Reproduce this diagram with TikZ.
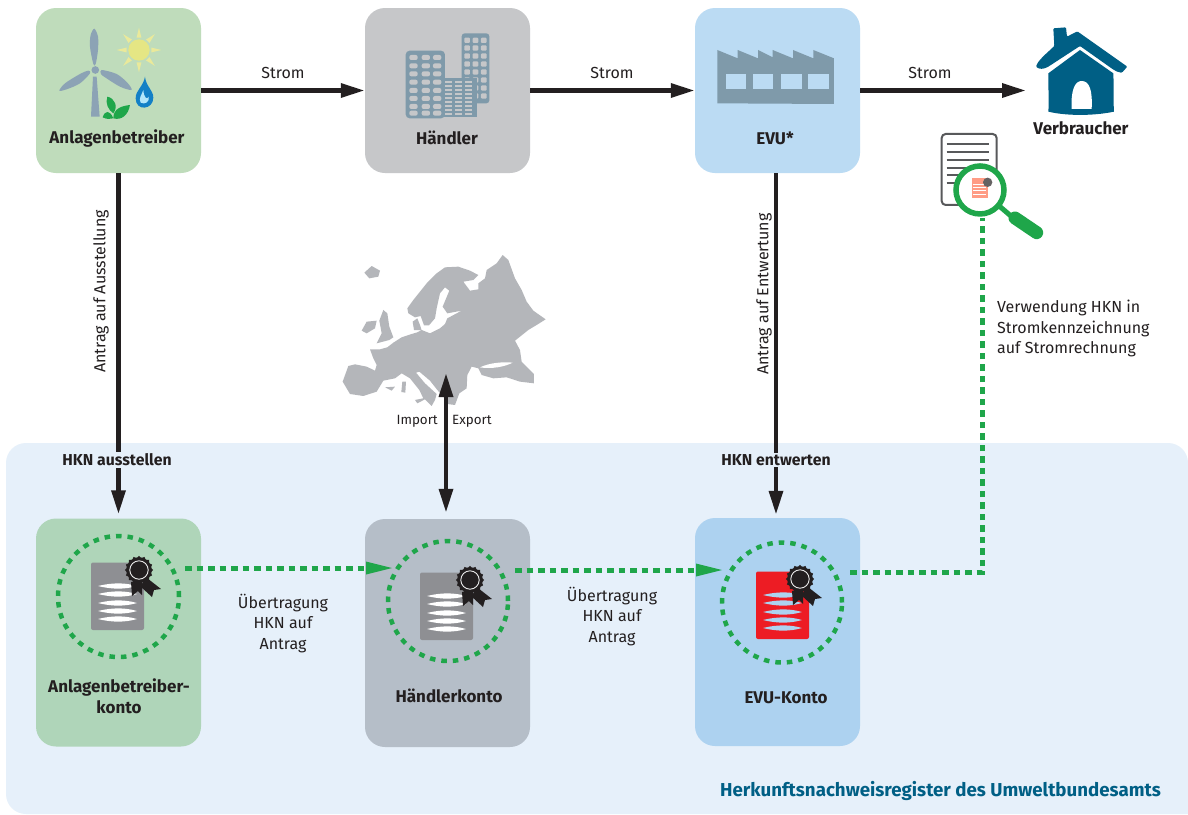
\documentclass[tikz,border=0pt]{standalone}
\usepackage{fontspec}
\setmainfont{Fira Sans}
\usetikzlibrary{arrows.meta,calc}
\definecolor{ink}{HTML}{231F20}
\definecolor{gbox}{HTML}{BFDCBB}
\definecolor{hbox}{HTML}{C6C7C9}
\definecolor{ebox}{HTML}{BBDBF3}
\definecolor{gacc}{HTML}{AFD5B9}
\definecolor{hacc}{HTML}{B5BEC8}
\definecolor{eacc}{HTML}{ADD2F0}
\definecolor{regbg}{HTML}{E6F0FA}
\definecolor{petrol}{HTML}{005F85}
\definecolor{ggreen}{HTML}{1FA64A}
\definecolor{icon}{HTML}{7F9AAA}
\definecolor{blade}{HTML}{8CA3B5}
\definecolor{mapgrey}{HTML}{B4B6BA}
\definecolor{docgrey}{HTML}{8E8F93}
\definecolor{sun}{HTML}{E5E684}
\definecolor{ray}{HTML}{EAE99A}
\definecolor{docred}{HTML}{ED1C24}
\definecolor{dropb}{HTML}{1380C6}
\definecolor{salmon}{HTML}{FF9C85}
\definecolor{docline}{HTML}{58595B}
\tikzset{
  box/.style={rounded corners=20pt,minimum width=165pt,inner sep=0pt,draw=none},
  lab/.style={font=\fontsize{17}{20}\selectfont\bfseries,text=ink,align=center,inner sep=0pt},
  hkn/.style={font=\fontsize{15.8}{18}\selectfont\bfseries,text=ink,fill=regbg,inner xsep=1pt,inner ysep=1.5pt},
  txt/.style={font=\fontsize{16}{20.5}\selectfont,text=ink,align=center,inner sep=1pt},
  small/.style={font=\fontsize{13.4}{15}\selectfont,text=ink,inner sep=0pt},
  flow/.style={line width=4.6pt,draw=ink,-{Triangle[length=24pt,width=13.5pt]}},
  flowb/.style={line width=4.6pt,draw=ink,{Triangle[length=24pt,width=13.5pt]}-{Triangle[length=24pt,width=13.5pt]}},
  gline/.style={line width=5pt,draw=ggreen,dash pattern=on 6.5pt off 5pt},
  ring/.style={circle,inner sep=0pt,draw=ggreen,line width=4.5pt,dash pattern=on 5.5pt off 6pt},
  zoomed/.style={x=0.3333pt,y=-0.3333pt}
}
\newcommand{\rosette}[2]{%
  \begin{scope}[shift={(#1,#2)}]
    \fill[ink] (3,10) -- (-8,12) -- (-7,26) -- (-1,21) -- (3,25) -- cycle;
    \fill[ink] (8,8) -- (1,16) -- (13,27) -- (15,20) -- (22,19) -- cycle;
    \fill[ink] plot[samples=49,domain=0:360,smooth cycle] ({(13.2+1*cos(16*\x))*cos(\x)},{(13.2+1*cos(16*\x))*sin(\x)});
    \draw[white!85!gray,line width=.9pt] (0,0) circle (9.2pt);
  \end{scope}}
\newcommand{\certif}[5]{%
  \begin{scope}[shift={(#1,#2)}]
    \fill[#3,rounded corners=2pt] (-26,-33.5) -- (27,-33.5) -- (27,34) -- (-26,34) -- cycle;
    \foreach \yy in {-10,-2,7,15,23}{
      \fill[#4] (-19,\yy) .. controls (-5,\yy-3.5) and (8,\yy-3.5) .. (20,\yy) .. controls (8,\yy+3.5) and (-5,\yy+3.5) .. cycle;
    }
  \end{scope}
  \rosette{#1+#5}{#2-26}}
\begin{document}
\begin{tikzpicture}[x=1pt,y=-1pt]
\useasboundingbox (0,0) rectangle (1188,814);
\fill[white] (0,0) rectangle (1188,814);
% register background
\fill[regbg] (26,443) -- (1168,443) arc[start angle=90,end angle=0,radius=20pt] -- (1188,814) -- (26,814) arc[start angle=270,end angle=180,radius=20pt] -- (6,463) arc[start angle=180,end angle=90,radius=20pt] -- cycle;
% boxes
\node[box,fill=gbox,minimum height=165pt] (b1) at (118.5,90.5) {};
\node[box,fill=hbox,minimum height=165pt] (b2) at (447.5,90.5) {};
\node[box,fill=ebox,minimum height=165pt] (b3) at (777.5,90.5) {};
\node[box,fill=gacc,minimum height=228pt] (k1) at (118.5,632.5) {};
\node[box,fill=hacc,minimum height=228pt] (k2) at (447.5,633) {};
\node[box,fill=eacc,minimum height=228pt] (k3) at (777.5,632) {};
% turbine
\begin{scope}[shift={(30,0)},zoomed]
  \fill[blade] (183,350) -- (189,230) -- (200,230) -- (209,350) -- cycle;
  \fill[blade] plot[smooth cycle] coordinates {(193,86) (204,110) (204,150) (197,192) (190,192) (180,140) (182,105)};
  \fill[blade] plot[smooth cycle] coordinates {(180,220) (150,250) (110,268) (88,272) (105,250) (150,222) (175,212)};
  \fill[blade] plot[smooth cycle] coordinates {(215,210) (260,222) (292,248) (305,270) (270,260) (225,232) (213,222)};
  \fill[blade] (196,210) circle (11.5);
  % sun
  \fill[sun] (327,150) circle (32);
  \foreach \a in {0,45,...,315}{
    \fill[ray] ($(327,150)+(\a-11:38)$) -- ($(327,150)+(\a:67)$) -- ($(327,150)+(\a+11:38)$) -- cycle;
  }
  % drop
  \fill[dropb] (345,230) .. controls (340,260) and (317,270) .. (317,295) .. controls (317,335) and (370,330) .. (370,293) .. controls (370,270) and (348,260) .. (345,230);
  \fill[white!70!cyan] (340,270) .. controls (335,285) and (325,295) .. (332,308) .. controls (345,315) and (360,305) .. (356,290) .. controls (352,300) and (342,295) .. (340,270);
  % leaves
  \fill[ggreen] (232,290) .. controls (255,295) and (265,320) .. (250,340) .. controls (235,330) and (225,310) .. (232,290);
  \fill[ggreen] (218,352) .. controls (225,330) and (240,330) .. (250,355) .. controls (240,358) and (230,358) .. cycle;
  \fill[ggreen] (300,315) .. controls (275,318) and (250,325) .. (250,355) .. controls (275,362) and (295,345) .. cycle;
\end{scope}
% buildings
\begin{scope}[shift={(360,0)},zoomed]
  \fill[icon,rounded corners=3pt] (305,100) rectangle (388,310);
  \foreach \xx in {313,338,363}\foreach \yy in {113,136,160,184,208,232,256,280}{
    \fill[hbox,rounded corners=1pt] (\xx,\yy) rectangle +(17,16);
  }
  \fill[icon] (250,233) rectangle (350,352);
  \foreach \xx in {256,286,316}\foreach \yy in {242,254,266,278,290,302,314,326,338}{
    \fill[hbox] (\xx,\yy) rectangle +(20,6);
  }
  \fill[icon,rounded corners=4pt] (137,152) rectangle (255,355);
  \foreach \xx in {148,185,219}\foreach \yy in {165,190,214,239,264,288,312,332}{
    \fill[hbox,rounded corners=2pt] (\xx,\yy) rectangle +(25,15);
  }
\end{scope}
% factory
\begin{scope}[shift={(690,0)},zoomed]
  \fill[icon] (82,150) -- (143,175) -- (143,150) -- (204,175) -- (204,150) -- (248,172) -- (248,150) -- (309,175) -- (309,150) -- (370,175) -- (370,150) -- (432,175) -- (432,312) -- (82,310) -- cycle;
  \foreach \xx/\ww in {108/61,190/58,274/61,355/61}{
    \fill[ebox] (\xx,223) rectangle +(\ww,45);
  }
\end{scope}
% house
\begin{scope}[shift={(920,10)},zoomed]
  \fill[petrol] (385,190) -- (480,120) -- (580,190) .. controls (582,240) and (580,280) .. (582,305) .. controls (520,318) and (440,318) .. (385,305) .. controls (388,270) and (384,230) .. cycle;
  \fill[white] (455,297) .. controls (452,240) and (465,213) .. (485,213) .. controls (508,213) and (518,240) .. (515,297) -- cycle;
  \fill[petrol,rounded corners=1pt] (400,55) -- (438,52) -- (441,80) -- (472,64) -- (622,170) -- (606,188) .. controls (595,188) and (585,182) .. (576,176) -- (480,108) -- (385,170) .. controls (370,178) and (358,178) .. (348,170) .. controls (355,150) and (380,130) .. (403,108) -- cycle;
\end{scope}
\node[lab] (vb) at (1081,128.5) {Verbraucher};
\coordinate (hs) at (1026,90.5);
% magnifier
\begin{scope}[shift={(920,10)},zoomed]
  \draw[draw=docline,line width=2pt,rounded corners=4pt] (65,372) rectangle (230,585);
  \foreach \yy/\xe in {403/207,427/207,450/207,473/207,496/145,519/130}{
    \draw[docline,line width=2pt] (80,\yy) -- (\xe,\yy);
  }
  \fill[white] (180,540) circle (72);
  \fill[salmon] (155,505) rectangle (203,563);
  \foreach \yy in {522,532,542,552}{\draw[white,line width=.7pt] (160,\yy) -- (198,\yy);}
  \fill[ink!70!white] (203,517) circle (14);
  \draw[ggreen,line width=5.5pt] (180,540) circle (72);
  \draw[ggreen,line width=5pt] (240,590) -- (275,620);
  \draw[ggreen,line width=13pt,line cap=round] (285,624) -- (350,668);
\end{scope}
% europe map
\begin{scope}[shift={(330,250)},zoomed]
  \fill[mapgrey] (38,395) -- (55,348) -- (75,343) -- (110,350) -- (135,362) -- (140,345) -- (130,325) -- (120,298) -- (150,298) -- (172,292) -- (190,278) -- (215,262) -- (245,252) -- (262,247) -- (275,240) -- (300,250) -- (330,235) -- (345,222) -- (352,205) -- (395,182) -- (352,190) -- (345,180) -- (338,170) -- (358,122) -- (345,112) -- (330,130) -- (320,175) -- (315,205) -- (297,226) -- (282,226) -- (272,198) -- (255,202) -- (235,190) -- (232,175) -- (250,150) -- (290,100) -- (320,70) -- (345,52) -- (385,50) -- (420,62) -- (445,75) -- (430,90) -- (400,95) -- (420,122) -- (445,118) -- (445,100) -- (465,85) -- (470,60) -- (500,40) -- (518,15) -- (535,30) -- (555,85) -- (575,120) -- (590,155) -- (610,182) -- (647,208) -- (620,225) -- (595,240) -- (555,272) -- (570,300) -- (575,335) -- (612,372) -- (612,400) -- (570,395) -- (530,382) -- (490,385) -- (455,375) -- (445,355) -- (425,350) -- (412,375) -- (410,415) -- (388,430) -- (375,465) -- (352,462) -- (340,440) -- (322,420) -- (300,392) -- (268,365) -- (258,368) -- (285,400) -- (320,432) -- (315,450) -- (305,468) -- (285,448) -- (262,460) -- (255,450) -- (280,445) -- (268,420) -- (240,385) -- (215,370) -- (195,385) -- (160,392) -- (140,425) -- (100,438) -- (60,432) -- cycle;
  % black sea
  \fill[white] (450,352) .. controls (480,338) and (520,335) .. (548,338) .. controls (525,350) and (485,358) .. cycle;
  % denmark
  \fill[mapgrey] (248,215) -- (262,205) -- (270,225) -- (275,241) -- (252,240) -- cycle;
  % UK, Ireland, Iceland and islands
  \fill[mapgrey] (148,212) -- (160,180) -- (172,190) -- (178,230) -- (190,262) -- (178,270) -- (140,280) -- (155,250) -- cycle;
  \fill[mapgrey] (95,242) -- (110,215) -- (140,212) -- (135,235) -- (110,250) -- cycle;
  \fill[mapgrey] (103,68) -- (125,48) -- (150,62) -- (145,80) -- (118,85) -- cycle;
  \fill[mapgrey] (217,395) -- (228,395) -- (226,428) -- (214,426) -- cycle;
  \fill[mapgrey] (165,412) -- (195,410) -- (185,422) -- cycle;
\end{scope}
\coordinate (mp) at (446,373);
% labels on boxes
\node[lab] (l1) at (117,138) {Anlagenbetreiber};
\node[lab] (l2) at (447,138) {Händler};
\node[lab] (l3) at (775,138) {EVU*};
\node[lab] (l4) at (119,696.5) {Anlagenbetreiber-\\[1pt]konto};
\node[lab] (l5) at (449,696) {Händlerkonto};
\node[lab] (l6) at (786,698) {EVU-Konto};
% Strom arrows
\draw[flow] (b1.east) -- (b2.west);
\draw[flow] (b2.east) -- (b3.west);
\draw[flow] (b3.east) -- (hs);
\node[txt] (s1) at (283,73) {Strom};
\node[txt] (s2) at (612,73) {Strom};
\node[txt] (s3) at (930,73) {Strom};
% vertical arrows
\coordinate (k1t) at ($(k1.north)+(0,-4)$);
\coordinate (k3t) at ($(k3.north)+(-1.5,-3)$);
\coordinate (k2t) at ($(k2.north)+(-1.5,-6)$);
\draw[flow] (b1.south) -- (k1t);
\draw[flow] (b3.south -| k3t) -- (k3t);
\draw[flowb] (mp) -- (k2t);
\node[txt,rotate=90] (a1) at (101,291.5) {Antrag auf Ausstellung};
\node[txt,rotate=90] (a2) at (764,294) {Antrag auf Entwertung};
\node[hkn] (h1) at (117,460) {HKN ausstellen};
\node[hkn] (h2) at (776,460) {HKN entwerten};
\node[small,anchor=east] (im) at (438,421) {Import};
\node[small,anchor=west] (ex) at (452,421) {Export};
% certificates
\node[ring,minimum size=121pt] (c1) at (118.5,596.5) {};
\node[ring,minimum size=120pt] (c2) at (448,601) {};
\node[ring,minimum size=120pt] (c3) at (782,602.5) {};
\certif{117}{596}{docgrey}{white}{22}
\certif{446}{606}{docgrey}{white}{24}
\certif{782}{605}{docred}{eacc}{18}
% green connectors
\coordinate (g1a) at (185,568);
\coordinate (g1b) at (392,568);
\coordinate (g2a) at (515,570);
\coordinate (g2b) at (722,570);
\coordinate (g3a) at (850,572);
\coordinate (g3b) at (982,572);
\coordinate (g3c) at (982,218);
\draw[gline] (g1a) -- ($(g1b)+(-22,0)$);
\fill[ggreen] (g1b) -- ++(-26,-6.5) -- ++(0,13) -- cycle;
\draw[gline] (g2a) -- ($(g2b)+(-22,0)$);
\fill[ggreen] (g2b) -- ++(-26,-6.5) -- ++(0,13) -- cycle;
\draw[gline] (g3a) -- (g3b) -- (g3c);
% texts
\node[txt] (u1) at (283,623.5) {Übertragung\\HKN auf\\Antrag};
\node[txt] (u2) at (612,616.5) {Übertragung\\HKN auf\\Antrag};
\node[txt,align=left,anchor=north west] (vw) at (996,299) {Verwendung HKN in\\Stromkennzeichnung\\auf Stromrechnung};
\node[lab,text=petrol,anchor=east,font=\fontsize{18.7}{20}\selectfont\bfseries] (reg) at (1161,791) {Herkunftsnachweisregister des Umweltbundesamts};
\end{tikzpicture}
\end{document}
